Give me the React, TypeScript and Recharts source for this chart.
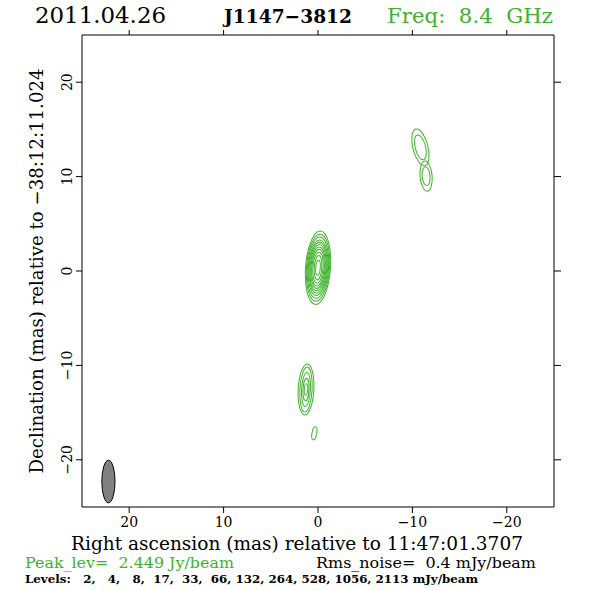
import { ScatterChart, Scatter, XAxis, YAxis, ReferenceArea } from 'recharts';

// map geometry (mas)
const raTicks = [20, 10, 0, -10, -20];
const decTicks = [-20, -10, 0, 10, 20];

// core component, nested contour levels from outside in
const coreCenter = [0.0, 0.35];
const coreRx = [1.32, 1.22, 1.12, 1.03, 0.94, 0.85, 0.76, 0.66, 0.54, 0.4, 0.24];
const coreRy = [3.9, 3.55, 3.25, 2.95, 2.7, 2.45, 2.2, 1.95, 1.65, 1.3, 0.8];

// southern jet component
const southCenter = [1.27, -12.55];
const southRx = [0.83, 0.65, 0.47, 0.32, 0.18];
const southRy = [2.7, 2.38, 1.8, 1.2, 0.6];

// faint knot below it
const knotCenter = [0.39, -17.2];
const knotRx = [0.25];
const knotRy = [0.7];

// northern figure-eight, two blobs
const northACenter = [-10.85, 13.1];
const northARx = [0.8, 0.55];
const northARy = [2.0, 1.35];
const northBCenter = [-11.45, 10.05];
const northBRx = [0.64, 0.42];
const northBRy = [1.6, 1.0];

// restoring beam
const beamCenter = [22.2, -22.3];
const beamSize = [0.7, 2.26];

const levels = [2, 4, 8, 17, 33, 66, 132, 264, 528, 1056, 2113];

const GREEN = '#3fb22a';
const FONT = 'DejaVu Serif';

type Ring = { ra: number; dec: number; rx: number; ry: number; tilt: number };

const rings = (c: number[], rx: number[], ry: number[], tilt: number): Ring[] =>
  rx.map((r, i) => ({ ra: c[0], dec: c[1], rx: r, ry: ry[i], tilt }));

const contours: Ring[] = [
  ...rings(coreCenter, coreRx, coreRy, 4),
  ...rings(southCenter, southRx, southRy, 3),
  ...rings(knotCenter, knotRx, knotRy, 10),
  ...rings(northACenter, northARx, northARy, -14),
  ...rings(northBCenter, northBRx, northBRy, -5),
];

const minus = (v: number) => String(v).replace('-', '\u2212');

const ellipseShape = (tilt: number, fill: string, stroke: string) => (p: any) => {
  const cx = p.x + p.width / 2;
  const cy = p.y + p.height / 2;
  return (
    <ellipse
      cx={cx}
      cy={cy}
      rx={Math.abs(p.width) / 2}
      ry={Math.abs(p.height) / 2}
      transform={`rotate(${tilt} ${cx} ${cy})`}
      fill={fill}
      stroke={stroke}
      strokeWidth={1}
    />
  );
};

const DecTick = (props: any) => {
  const { x, y, payload } = props;
  return (
    <text
      x={x}
      y={y}
      transform={`rotate(-90 ${x} ${y})`}
      textAnchor="middle"
      fontSize={14}
      fontFamily={FONT}
      fill="#000"
    >
      {minus(payload.value)}
    </text>
  );
};

// tick marks only, no labels (top and right frame edges)
const NoLabel = () => <g />;

const axisProps = {
  type: 'number' as const,
  domain: [-25, 25],
  allowDataOverflow: true,
  axisLine: { stroke: '#000', strokeWidth: 1 },
  tickLine: { stroke: '#000', strokeWidth: 1 },
};

export default function App() {
  return (
    <div style={{ position: 'fixed', left: 0, top: 0, width: 590, height: 590, background: '#fff' }}>
      <ScatterChart width={590} height={590} margin={{ top: 25, right: 26, bottom: 63, left: 52 }}>
        <XAxis
          {...axisProps}
          xAxisId={0}
          dataKey="ra"
          reversed
          ticks={raTicks}
          tickSize={6}
          tickMargin={4}
          height={20}
          tickFormatter={minus}
          tick={{ fill: '#000', fontSize: 14, fontFamily: FONT }}
        />
        <XAxis {...axisProps} xAxisId="top" dataKey="ra" orientation="top" reversed ticks={raTicks} tickSize={5} tick={<NoLabel />} height={10} />
        <YAxis {...axisProps} yAxisId={0} dataKey="dec" ticks={decTicks} tickSize={6} tickMargin={4} width={30} tick={<DecTick />} />
        <YAxis {...axisProps} yAxisId="right" dataKey="dec" orientation="right" ticks={decTicks} tickSize={7} tick={<NoLabel />} width={10} />
        <Scatter data={contours} xAxisId={0} yAxisId={0} shape={() => <g />} isAnimationActive={false} />
        {contours.map((c, i) => (
          <ReferenceArea
            key={i}
            xAxisId={0}
            yAxisId={0}
            x1={c.ra + c.rx}
            x2={c.ra - c.rx}
            y1={c.dec - c.ry}
            y2={c.dec + c.ry}
            ifOverflow="visible"
            shape={ellipseShape(c.tilt, 'none', GREEN)}
          />
        ))}
        <ReferenceArea
          xAxisId={0}
          yAxisId={0}
          x1={beamCenter[0] + beamSize[0]}
          x2={beamCenter[0] - beamSize[0]}
          y1={beamCenter[1] - beamSize[1]}
          y2={beamCenter[1] + beamSize[1]}
          ifOverflow="visible"
          shape={ellipseShape(0, '#808080', '#000')}
        />
      </ScatterChart>
      <svg
        width={590}
        height={590}
        style={{ position: 'absolute', left: 0, top: 0, pointerEvents: 'none' }}
        fontFamily={FONT}
      >
        <text x={35} y={23} fontSize={22} textLength={131} lengthAdjust="spacingAndGlyphs">2011.04.26</text>
        <text x={224} y={23} fontSize={19} fontWeight="bold" textLength={128} lengthAdjust="spacingAndGlyphs">
          J1147{'\u2212'}3812
        </text>
        <text x={387} y={23} fontSize={21} fill={GREEN} textLength={166} lengthAdjust="spacingAndGlyphs" xmlSpace="preserve">
          {'Freq:  8.4  GHz'}
        </text>
        <text x={71} y={550} fontSize={18} textLength={452} lengthAdjust="spacingAndGlyphs">
          Right ascension (mas) relative to 11:47:01.3707
        </text>
        <text
          x={43}
          y={271}
          fontSize={18}
          textAnchor="middle"
          transform="rotate(-90 43 271)"
          textLength={405}
          lengthAdjust="spacingAndGlyphs"
        >
          Declination (mas) relative to {'\u2212'}38:12:11.024
        </text>
        <text x={25} y={568} fontSize={15} fill={GREEN} textLength={209} lengthAdjust="spacingAndGlyphs" xmlSpace="preserve">
          {'Peak_lev=  2.449 Jy/beam'}
        </text>
        <text x={316} y={568} fontSize={15} textLength={220} lengthAdjust="spacingAndGlyphs" xmlSpace="preserve">
          {'Rms_noise=  0.4 mJy/beam'}
        </text>
        <text x={25} y={583} fontSize={11} fontWeight="bold" textLength={453} lengthAdjust="spacingAndGlyphs" xmlSpace="preserve">
          {'Levels: ' + levels.map((v) => String(v).padStart(3, ' ')).join(', ') + ' mJy/beam'}
        </text>
      </svg>
    </div>
  );
}
